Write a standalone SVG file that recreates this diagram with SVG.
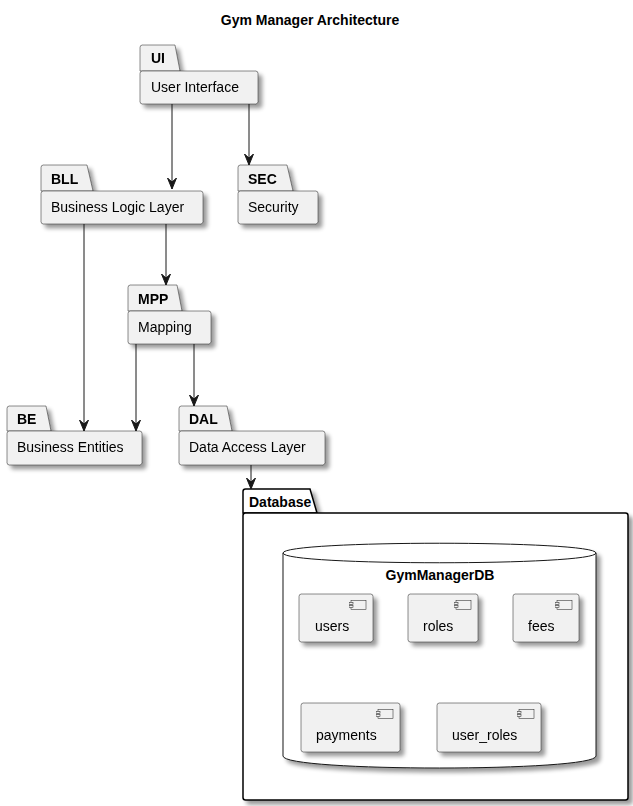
<svg xmlns="http://www.w3.org/2000/svg" width="633" height="806" viewBox="0 0 633 806">
  <style>
    text { font-family: "Liberation Sans", Arial, sans-serif; fill: #000; }
    .title { font-size: 14px; font-weight: bold; }
    .pname { font-size: 14px; font-weight: bold; }
    .pdesc { font-size: 14px; }
    .pkg { fill: #F1F1F1; stroke: #181818; stroke-width: 0.5; }
    .dbpkg { fill: #FFFFFF; stroke: #000; stroke-width: 1.5; }
    .cyl { fill: #FFFFFF; stroke: #181818; stroke-width: 1; }
    .comp { fill: #F1F1F1; stroke: #181818; stroke-width: 0.5; }
    .edge { fill: none; stroke: #181818; stroke-width: 1; }
  </style>
  <defs>
    <filter id="shadow" x="-20%" y="-20%" width="150%" height="150%">
      <feGaussianBlur in="SourceAlpha" stdDeviation="2"/>
      <feOffset dx="4" dy="4" result="blur"/>
      <feComponentTransfer><feFuncA type="linear" slope="0.4"/></feComponentTransfer>
      <feMerge><feMergeNode/><feMergeNode in="SourceGraphic"/></feMerge>
    </filter>
    <marker id="arrow" markerWidth="11" markerHeight="10" refX="11" refY="5" orient="auto" markerUnits="userSpaceOnUse" viewBox="0 0 11 10">
      <path d="M11,5 L0,0.5 L4,5 L0,9.5 Z" fill="#181818" stroke="#181818" stroke-width="1" stroke-linejoin="miter"/>
    </marker>
    <symbol id="compIcon" viewBox="0 0 19 10" width="19" height="10">
      <rect x="2" y="0.5" width="15" height="9" fill="#F1F1F1" stroke="#181818" stroke-width="0.5"/>
      <rect x="0" y="2.5" width="4" height="2" fill="#F1F1F1" stroke="#181818" stroke-width="0.5"/>
      <rect x="0" y="5.5" width="4" height="2" fill="#F1F1F1" stroke="#181818" stroke-width="0.5"/>
    </symbol>
  </defs>

  <text class="title" x="310" y="25" text-anchor="middle">Gym Manager Architecture</text>

  <!-- UI -->
  <g id="UI" filter="url(#shadow)">
    <path class="pkg" d="M140,71 L140,47.5 Q140,45 142.5,45 L175,45 L180,71 Z"/>
    <rect class="pkg" x="140" y="71" width="118" height="33" rx="2.5"/>
    <text class="pname" x="151" y="63">UI</text>
    <text class="pdesc" x="151" y="92">User Interface</text>
  </g>

  <!-- BLL -->
  <g id="BLL" filter="url(#shadow)">
    <path class="pkg" d="M41,191 L41,167.5 Q41,165 43.5,165 L87,165 L93,191 Z"/>
    <rect class="pkg" x="41" y="191" width="162" height="33" rx="2.5"/>
    <text class="pname" x="51" y="184">BLL</text>
    <text class="pdesc" x="51" y="212">Business Logic Layer</text>
  </g>

  <!-- SEC -->
  <g id="SEC" filter="url(#shadow)">
    <path class="pkg" d="M238,191 L238,167.5 Q238,165 240.5,165 L287,165 L293,191 Z"/>
    <rect class="pkg" x="238" y="191" width="80" height="33" rx="2.5"/>
    <text class="pname" x="248" y="184">SEC</text>
    <text class="pdesc" x="248" y="212">Security</text>
  </g>

  <!-- MPP -->
  <g id="MPP" filter="url(#shadow)">
    <path class="pkg" d="M128,311 L128,287.5 Q128,285 130.5,285 L177,285 L182,311 Z"/>
    <rect class="pkg" x="128" y="311" width="83" height="33" rx="2.5"/>
    <text class="pname" x="138" y="304">MPP</text>
    <text class="pdesc" x="138" y="332">Mapping</text>
  </g>

  <!-- BE -->
  <g id="BE" filter="url(#shadow)">
    <path class="pkg" d="M7,431 L7,408.5 Q7,406 9.5,406 L46,406 L51,431 Z"/>
    <rect class="pkg" x="7" y="431" width="135" height="34" rx="2.5"/>
    <text class="pname" x="17" y="424">BE</text>
    <text class="pdesc" x="17" y="452">Business Entities</text>
  </g>

  <!-- DAL -->
  <g id="DAL" filter="url(#shadow)">
    <path class="pkg" d="M179,431 L179,408.5 Q179,406 181.5,406 L227,406 L232,431 Z"/>
    <rect class="pkg" x="179" y="431" width="146" height="34" rx="2.5"/>
    <text class="pname" x="189" y="424">DAL</text>
    <text class="pdesc" x="189" y="452">Data Access Layer</text>
  </g>

  <!-- Database package -->
  <g id="Database">
    <g filter="url(#shadow)">
      <path class="dbpkg" d="M243,513 L243,491.5 Q243,489 245.5,489 L310,489 L317,513 Z"/>
      <rect class="dbpkg" x="243" y="513" width="385" height="287" rx="2.5"/>
    </g>
    <text class="pname" x="249" y="507">Database</text>

    <!-- GymManagerDB cylinder -->
    <g id="GymManagerDB">
      <path class="cyl" filter="url(#shadow)" d="M283,553 C283,540 596,540 596,553 L596,756 C596,772 283,772 283,756 Z"/>
      <path class="cyl" d="M283,553 C283,566 596,566 596,553"/>
      <text class="pname" x="440" y="580" text-anchor="middle">GymManagerDB</text>
    </g>

    <g id="users" filter="url(#shadow)">
      <rect class="comp" x="299" y="594" width="74" height="48" rx="2.5"/>
      <use href="#compIcon" x="349" y="600" width="19" height="10"/>
      <text class="pdesc" x="315" y="631">users</text>
    </g>
    <g id="roles" filter="url(#shadow)">
      <rect class="comp" x="408" y="594" width="70" height="48" rx="2.5"/>
      <use href="#compIcon" x="454" y="600" width="19" height="10"/>
      <text class="pdesc" x="423" y="631">roles</text>
    </g>
    <g id="fees" filter="url(#shadow)">
      <rect class="comp" x="513" y="594" width="66" height="48" rx="2.5"/>
      <use href="#compIcon" x="555" y="600" width="19" height="10"/>
      <text class="pdesc" x="528" y="631">fees</text>
    </g>
    <g id="payments" filter="url(#shadow)">
      <rect class="comp" x="301" y="703" width="99" height="49" rx="2.5"/>
      <use href="#compIcon" x="376" y="709" width="19" height="10"/>
      <text class="pdesc" x="316" y="740">payments</text>
    </g>
    <g id="user_roles" filter="url(#shadow)">
      <rect class="comp" x="437" y="703" width="104" height="49" rx="2.5"/>
      <use href="#compIcon" x="517" y="709" width="19" height="10"/>
      <text class="pdesc" x="452" y="740">user_roles</text>
    </g>
  </g>

  <!-- Connectors -->
  <g id="connectors">
    <line class="edge" x1="172" y1="104" x2="172" y2="189" marker-end="url(#arrow)"/>
    <line class="edge" x1="249" y1="104" x2="249" y2="165" marker-end="url(#arrow)"/>
    <line class="edge" x1="84" y1="224" x2="84" y2="431" marker-end="url(#arrow)"/>
    <line class="edge" x1="166" y1="224" x2="166" y2="285" marker-end="url(#arrow)"/>
    <line class="edge" x1="136" y1="344" x2="136" y2="431" marker-end="url(#arrow)"/>
    <line class="edge" x1="194" y1="344" x2="194" y2="406" marker-end="url(#arrow)"/>
    <line class="edge" x1="251" y1="465" x2="251" y2="489" marker-end="url(#arrow)"/>
  </g>
</svg>
